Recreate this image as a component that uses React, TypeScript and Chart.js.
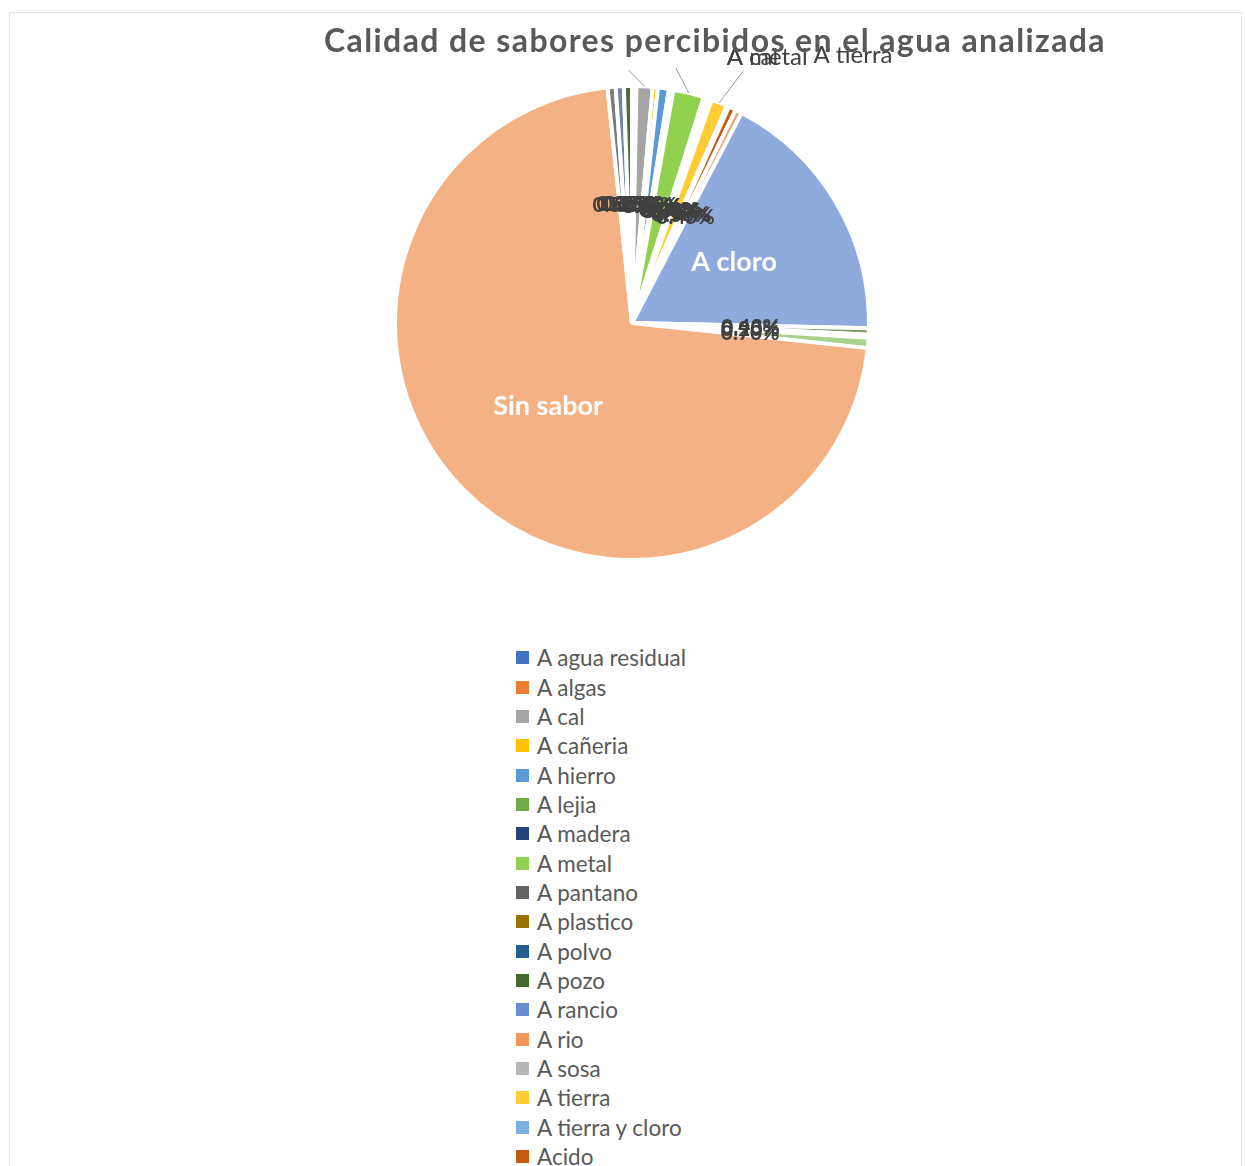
import React, { useEffect, useRef } from "react";
import { Chart, registerables } from "chart.js";

Chart.register(...registerables);

const chartTitle = "Calidad de sabores percibidos en el agua analizada";

const categories = [
  "A agua residual",
  "A algas",
  "A cal",
  "A cañeria",
  "A hierro",
  "A lejia",
  "A madera",
  "A metal",
  "A pantano",
  "A plastico",
  "A polvo",
  "A pozo",
  "A rancio",
  "A rio",
  "A sosa",
  "A tierra",
  "A tierra y cloro",
  "Acido",
  "Agrio",
  "A cloro",
  "Metálico",
  "Salado",
  "Salobre",
  "Sin sabor",
  "Sucio",
  "Terroso",
  "Turbio",
];

// percentage of samples per perceived taste
const shares = [
  0.15, 0.15, 1.1, 0.35, 0.75, 0.15, 0.15, 2.1, 0.08, 0.08, 0.08, 0.08, 0.08,
  0.08, 0.08, 1.1, 0.15, 0.5, 0.45, 17.7, 0.43, 0.2, 0.7, 71.66, 0.55, 0.55,
  0.55,
];

const colors = [
  "#4472C4",
  "#ED7D31",
  "#A5A5A5",
  "#FFC000",
  "#5B9BD5",
  "#70AD47",
  "#264478",
  "#92D050",
  "#636363",
  "#997300",
  "#255E91",
  "#43682B",
  "#698ED0",
  "#F1975A",
  "#B7B7B7",
  "#FFCD33",
  "#7CAFDD",
  "#C55A11",
  "#E2A67A",
  "#8FAADC",
  "#7F9F6A",
  "#D9D9D9",
  "#A9D18E",
  "#F4B183",
  "#7B7B7B",
  "#6F83A8",
  "#4E6B3A",
];

// categories whose name label sits outside the pie with a leader line
const outsideLabelCategories = ["A cal", "A metal", "A tierra"];

// leader-line / text offsets (px) from the slice's outer edge point
const outsidePlacement: Record<string, { lx: number; ly: number; tx: number; ty: number }> = {
  "A cal": { lx: -16, ly: -16, tx: 82, ty: -29 },
  "A metal": { lx: -13, ly: -25, tx: 38, ty: -36 },
  "A tierra": { lx: 24, ly: -32, tx: 94, ty: -47 },
};

const FONT = "Lato, 'Open Sans', sans-serif";

const sliceLabelPlugin = {
  id: "sliceLabels",
  afterDatasetsDraw(chart: any) {
    const ctx = chart.ctx as CanvasRenderingContext2D;
    const meta = chart.getDatasetMeta(0);
    const data = chart.data.datasets[0].data as number[];
    const labels = chart.data.labels as string[];
    const total = data.reduce((a, b) => a + b, 0);
    ctx.save();
    meta.data.forEach((arc: any, i: number) => {
      const { x, y, startAngle, endAngle, outerRadius } = arc.getProps(
        ["x", "y", "startAngle", "endAngle", "outerRadius"],
        true
      );
      const mid = (startAngle + endAngle) / 2;
      const c = Math.cos(mid);
      const s = Math.sin(mid);
      const name = labels[i];
      const pct = (data[i] / total) * 100;
      if (outsideLabelCategories.includes(name)) {
        const p = outsidePlacement[name];
        const px = x + c * outerRadius;
        const py = y + s * outerRadius;
        ctx.strokeStyle = "#8c9bb0";
        ctx.lineWidth = 1;
        ctx.beginPath();
        ctx.moveTo(px, py);
        ctx.lineTo(px + p.lx, py + p.ly);
        ctx.stroke();
        ctx.fillStyle = "#404040";
        ctx.font = `24px ${FONT}`;
        ctx.textAlign = "left";
        ctx.textBaseline = "middle";
        ctx.fillText(name, px + p.tx, py + p.ty);
      } else if (pct >= 10) {
        ctx.fillStyle = "#ffffff";
        ctx.font = `bold 27px ${FONT}`;
        ctx.textAlign = "center";
        ctx.textBaseline = "middle";
        ctx.fillText(name, x + c * outerRadius * 0.5, y + s * outerRadius * 0.5);
      } else {
        ctx.fillStyle = "#404040";
        ctx.font = `bold 21px ${FONT}`;
        ctx.textAlign = "center";
        ctx.textBaseline = "middle";
        ctx.fillText(
          pct.toFixed(2) + "%",
          x + c * outerRadius * 0.5,
          y + s * outerRadius * 0.5
        );
      }
    });
    ctx.restore();
  },
};

export default function App() {
  const canvasRef = useRef<HTMLCanvasElement | null>(null);

  useEffect(() => {
    if (!canvasRef.current) return;
    const chart = new Chart(canvasRef.current, {
      type: "pie",
      data: {
        labels: categories,
        datasets: [
          {
            data: shares,
            backgroundColor: colors,
            borderColor: "#ffffff",
            borderWidth: 4,
            hoverOffset: 0,
            hoverBorderWidth: 0,
          },
        ],
      },
      options: {
        animation: false,
        responsive: false,
        events: [],
        layout: {
          padding: { left: 393, right: 374, top: 84, bottom: 78 },
        },
        plugins: {
          legend: { display: false },
          title: { display: false },
          tooltip: { enabled: false },
        },
      },
      plugins: [sliceLabelPlugin],
    });
    return () => chart.destroy();
  }, []);

  return (
    <div
      style={{
        position: "fixed",
        left: 0,
        top: 0,
        width: 1245,
        height: 1166,
        overflow: "hidden",
        background: "#ffffff",
        fontFamily: FONT,
      }}
    >
      <div
        style={{
          position: "absolute",
          left: 9,
          top: 12,
          width: 1231,
          height: 1300,
          border: "1px solid #e3e3e3",
        }}
      />
      <canvas
        ref={canvasRef}
        width={1245}
        height={640}
        style={{ position: "absolute", left: 0, top: 0, width: 1245, height: 640 }}
      />
      <div
        style={{
          position: "absolute",
          left: 0,
          top: 20,
          width: 1430,
          textAlign: "center",
          fontSize: 32,
          fontWeight: 700,
          letterSpacing: 1.4,
          color: "#595959",
          lineHeight: "40px",
          pointerEvents: "none",
        }}
      >
        {chartTitle}
      </div>
      <div style={{ position: "absolute", left: 516, top: 643 }}>
        {categories.map((name, i) => (
          <div
            key={name}
            style={{
              height: 29.35,
              display: "flex",
              alignItems: "center",
              fontSize: 22.5,
              color: "#595959",
              whiteSpace: "nowrap",
            }}
          >
            <span
              style={{
                display: "inline-block",
                width: 13,
                height: 13,
                background: colors[i],
                marginRight: 8,
              }}
            />
            {name}
          </div>
        ))}
      </div>
    </div>
  );
}
